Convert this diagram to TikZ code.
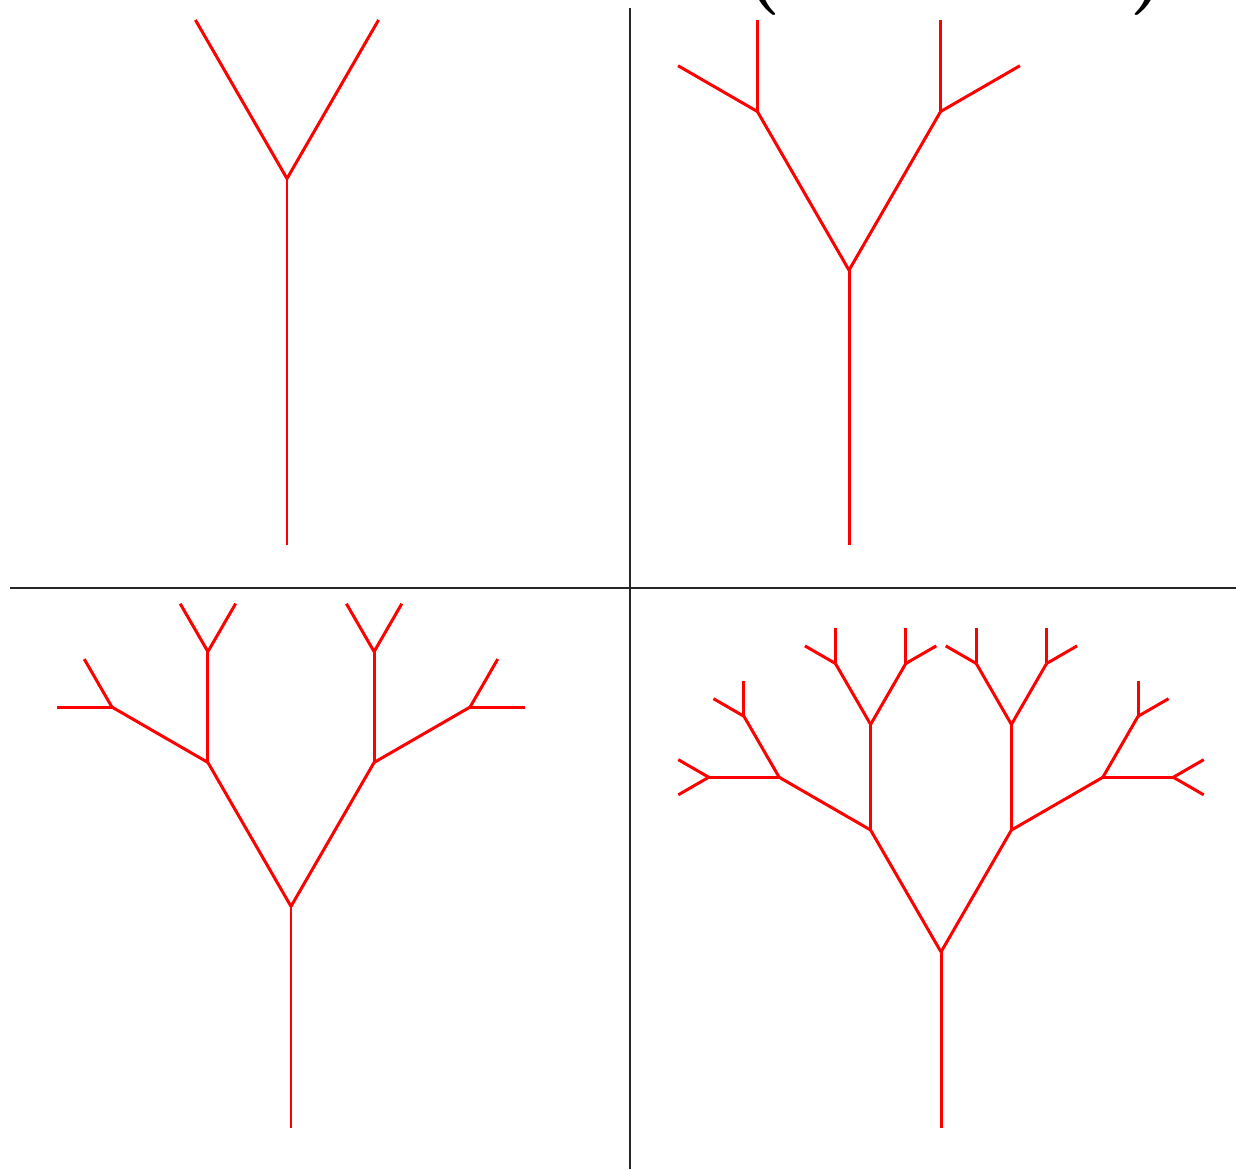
\documentclass[tikz,border=0pt]{standalone}
\usepackage{tikz}

\tikzset{
  twig/.style={draw=red, line width=0.85pt},
  divider/.style={draw=black!85, line width=0.6pt},
  bracket/.style={font=\fontsize{26}{30}\selectfont\bfseries, inner sep=0pt, anchor=south},
}

% #1 = length in units, #2 = direction, #3 = unit
\newcommand\growbranch[3]{%
  \ifnum#1>0\relax
    \draw[twig] (0,0) -- (#2:#1*#3);
    \begin{scope}[shift={(#2:#1*#3)}]
      \pgfmathtruncatemacro\shorter{#1-1}
      \growbranch{\shorter}{#2+30}{#3}
      \growbranch{\shorter}{#2-30}{#3}
    \end{scope}
  \fi}

\begin{document}
\begin{tikzpicture}
\useasboundingbox (0,0) rectangle (12.36,11.69);

% quadrant lines
\draw[divider] (6.30,0) -- (6.30,11.61);
\draw[divider] (0.10,5.81) -- (12.36,5.81);

% cut-off brackets above
\node[bracket] (lpar) at (7.61,11.53) {(};
\node[bracket] (rpar) at (11.49,11.53) {)};

% trees, one level deeper each time
\begin{scope}[shift={(2.87,6.24)}]
  \growbranch{2}{90}{1.832}
\end{scope}
\begin{scope}[shift={(8.49,6.24)}]
  \growbranch{3}{90}{0.916}
\end{scope}
\begin{scope}[shift={(2.91,0.41)}]
  \growbranch{4}{90}{0.554}
\end{scope}
\begin{scope}[shift={(9.41,0.41)}]
  \growbranch{5}{90}{0.352}
\end{scope}
\end{tikzpicture}
\end{document}
